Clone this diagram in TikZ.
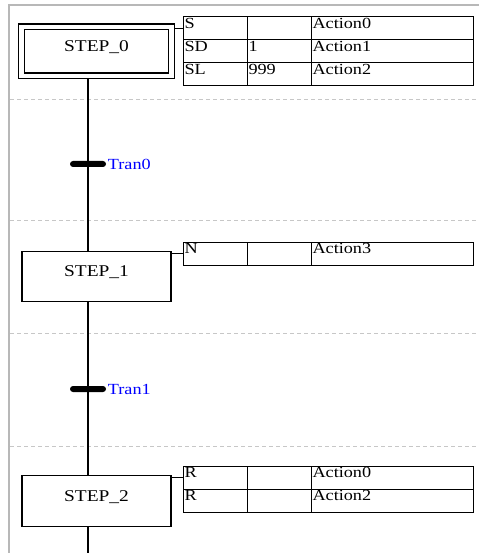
\documentclass[tikz,border=0pt]{standalone}
\usepackage{fontspec}
\setmainfont{Liberation Serif}[FakeStretch=1.18]
\usetikzlibrary{positioning}

\begin{document}
\begin{tikzpicture}[x=1bp, y=-1bp, font=\fontsize{15.5}{17}\selectfont,
    frame/.style={draw=black!28, line width=1.5bp},
    sep/.style={draw=black!22, line width=0.8bp, dash pattern=on 4bp off 3bp},
    link/.style={draw, line width=1.2bp},
    stepbox/.style={rectangle, draw, line width=1.2bp, minimum width=149bp,
                    minimum height=50bp, text height=5bp, text depth=5bp,
                    inner sep=0pt, font=\fontsize{16.5}{18}\selectfont},
    initstep/.style={stepbox, double, double distance=4.6bp, minimum width=150bp,
                     minimum height=49bp, outer sep=3.5bp},
    bar/.style={rectangle, fill=black, rounded corners=3bp, minimum width=36bp,
                minimum height=6bp, inner sep=0pt},
    tranlabel/.style={text=blue, inner sep=0pt},
    cell/.style={rectangle, draw, line width=1bp, anchor=north west, text width=#1,
                 minimum height=23bp, inner xsep=1.5bp, inner ysep=0pt, outer sep=0pt,
                 text height=5bp, text depth=5bp, align=left},
]
\useasboundingbox (0,0) rectangle (479,553);

\draw[frame] (9,553) -- (9,5) -- (479,5);
\foreach \y in {99,220,333,446}
    \draw[sep] (10,\y) -- (479,\y);

\node[initstep] (s0) at (96.5,51.5) {STEP\_0};
\node[stepbox]  (s1) at (96.5,276.5) {STEP\_1};
\node[stepbox, minimum height=51bp] (s2) at (96.5,501) {STEP\_2};

\node[bar] (t0) at (88,164) {};
\node[bar] (t1) at (88,389) {};
\node[tranlabel, right=1.5bp of t0] (l0) {Tran0};
\node[tranlabel, right=1.5bp of t1] (l1) {Tran1};
\coordinate (bottom) at (88,553);

\node[cell=61bp]                    (q0a) at (183,17) {S};
\node[cell=61bp, right=0pt of q0a]  (v0a) {};
\node[cell=159bp, right=0pt of v0a] (n0a) {Action0};
\node[cell=61bp, below=0pt of q0a]  (q0b) {SD};
\node[cell=61bp, right=0pt of q0b]  (v0b) {1};
\node[cell=159bp, right=0pt of v0b] (n0b) {Action1};
\node[cell=61bp, below=0pt of q0b]  (q0c) {SL};
\node[cell=61bp, right=0pt of q0c]  (v0c) {999};
\node[cell=159bp, right=0pt of v0c] (n0c) {Action2};

\node[cell=61bp]                    (q1a) at (183,242) {N};
\node[cell=61bp, right=0pt of q1a]  (v1a) {};
\node[cell=159bp, right=0pt of v1a] (n1a) {Action3};

\node[cell=61bp]                    (q2a) at (183,466) {R};
\node[cell=61bp, right=0pt of q2a]  (v2a) {};
\node[cell=159bp, right=0pt of v2a] (n2a) {Action0};
\node[cell=61bp, below=0pt of q2a]  (q2b) {R};
\node[cell=61bp, right=0pt of q2b]  (v2b) {};
\node[cell=159bp, right=0pt of v2b] (n2b) {Action2};

\draw[link] (s0.south -| t0) -- (t0) -- (s1.north -| t0);
\draw[link] (s1.south -| t1) -- (t1) -- (s2.north -| t1);
\draw[link] (s2.south -| t1) -- (bottom);

\draw[line width=1bp] (s0.east |- q0a.west) -- (q0a.west);
\draw[line width=1bp] (s1.east |- q1a.west) -- (q1a.west);
\draw[line width=1bp] (s2.east |- q2a.west) -- (q2a.west);
\end{tikzpicture}
\end{document}
